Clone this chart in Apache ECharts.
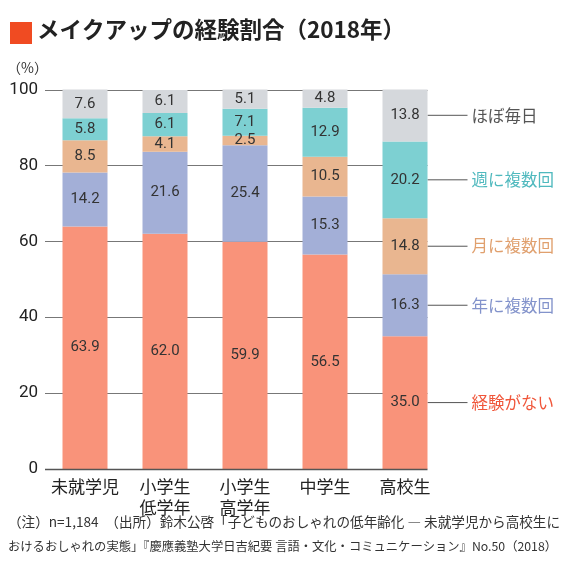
<!DOCTYPE html>
<html>
<head>
<meta charset="utf-8">
<script src="https://cdn.jsdelivr.net/npm/echarts@6/dist/echarts.min.js"></script>
<style>
html,body{margin:0;padding:0;background:#fff;}
#main{width:570px;height:584px;}
</style>
</head>
<body>
<div id="main"></div>
<script>
var categories = ['未就学児', '小学生\n低学年', '小学生\n高学年', '中学生', '高校生'];
var seriesNames = ['経験がない', '年に複数回', '月に複数回', '週に複数回', 'ほぼ毎日'];
var neverVals = [63.9, 62.0, 59.9, 56.5, 35.0];
var yearlyVals = [14.2, 21.6, 25.4, 15.3, 16.3];
var monthlyVals = [8.5, 4.1, 2.5, 10.5, 14.8];
var weeklyVals = [5.8, 6.1, 7.1, 12.9, 20.2];
var dailyVals = [7.6, 6.1, 5.1, 4.8, 13.8];
var yTicks = [0, 20, 40, 60, 80, 100];

var barColors = ['#F9937A', '#A3AFD7', '#E9B690', '#7DD0D2', '#D5D8DC'];
var nameColors = ['#F0563A', '#8393CB', '#E0A06E', '#4FB9BE', '#555555'];
var font = '"Noto Sans CJK JP", "Noto Sans", sans-serif';
var numFont = 'Roboto, "Liberation Sans", sans-serif';
var BAR_W = 45;
var GRID_LEFT = 45;

var chart = echarts.init(document.getElementById('main'));
var allVals = [neverVals, yearlyVals, monthlyVals, weeklyVals, dailyVals];

var series = seriesNames.map(function (n, i) {
  return {
    name: n,
    type: 'bar',
    stack: 'all',
    barWidth: BAR_W,
    z: 3,
    data: allVals[i],
    itemStyle: { color: barColors[i] },
    label: {
      show: true,
      position: 'inside',
      color: '#333',
      fontSize: 15,
      fontFamily: numFont,
      formatter: function (p) { return p.value.toFixed(1); }
    }
  };
});

chart.setOption({
  animation: false,
  textStyle: { fontFamily: font },
  grid: { left: GRID_LEFT, top: 89.5, width: 400, height: 379.5 },
  xAxis: {
    type: 'category',
    data: categories,
    axisTick: { show: false },
    axisLine: { show: false },
    axisLabel: { interval: 0, color: '#222', fontSize: 17, lineHeight: 21, margin: 7, fontFamily: font }
  },
  yAxis: {
    type: 'value',
    min: yTicks[0],
    max: yTicks[yTicks.length - 1],
    interval: 20,
    axisLine: { show: false },
    axisTick: { show: false },
    axisLabel: { color: '#222', fontSize: 17, margin: 7, fontFamily: numFont },
    splitLine: { show: false }
  },
  series: series,
  graphic: [
    { type: 'rect', left: 10, top: 22, shape: { width: 22, height: 22 }, style: { fill: '#F04B22' } },
    { type: 'text', left: 37, top: 18, style: { text: 'メイクアップの経験割合（2018年）', fill: '#222', font: 'bold 22.5px ' + font } },
    { type: 'text', left: 7, top: 61, style: { text: '（%）', fill: '#333', font: '14px ' + font } },
    { type: 'text', left: 8, top: 515, style: { text: '（注）n=1,184　（出所）鈴木公啓「子どものおしゃれの低年齢化 ― 未就学児から高校生に', fill: '#333', font: '13.6px ' + font } },
    { type: 'text', left: 8, top: 540, style: { text: 'おけるおしゃれの実態」『慶應義塾大学日吉紀要 言語・文化・コミュニケーション』No.50（2018）', fill: '#333', font: '12.3px ' + font } }
  ]
});

// gridlines stop at the right edge of the last bar, then leader lines + series names
var last = categories.length - 1;
var xEdge = chart.convertToPixel({ xAxisIndex: 0 }, last) + BAR_W / 2;
var extra = [];
yTicks.forEach(function (t) {
  var gy = Math.round(chart.convertToPixel({ yAxisIndex: 0 }, t)) + 0.5;
  extra.push({ type: 'line', z: t === 0 ? 10 : 0, shape: { x1: GRID_LEFT, y1: gy, x2: xEdge, y2: gy }, style: { stroke: t === 0 ? '#555' : '#777', lineWidth: t === 0 ? 1.3 : 1 } });
});
var cum = 0;
for (var i = 0; i < seriesNames.length; i++) {
  var v = allVals[i][last];
  var y = chart.convertToPixel({ yAxisIndex: 0 }, cum + v / 2);
  cum += v;
  extra.push({ type: 'line', shape: { x1: xEdge, y1: y, x2: xEdge + 40, y2: y }, style: { stroke: '#555', lineWidth: 1 } });
  extra.push({ type: 'text', x: xEdge + 44, y: y, style: { text: seriesNames[i], fill: nameColors[i], font: '16.5px ' + font, textVerticalAlign: 'middle' } });
}
var opt = chart.getOption();
chart.setOption({ graphic: opt.graphic[0].elements.concat(extra) });
</script>
</body>
</html>
